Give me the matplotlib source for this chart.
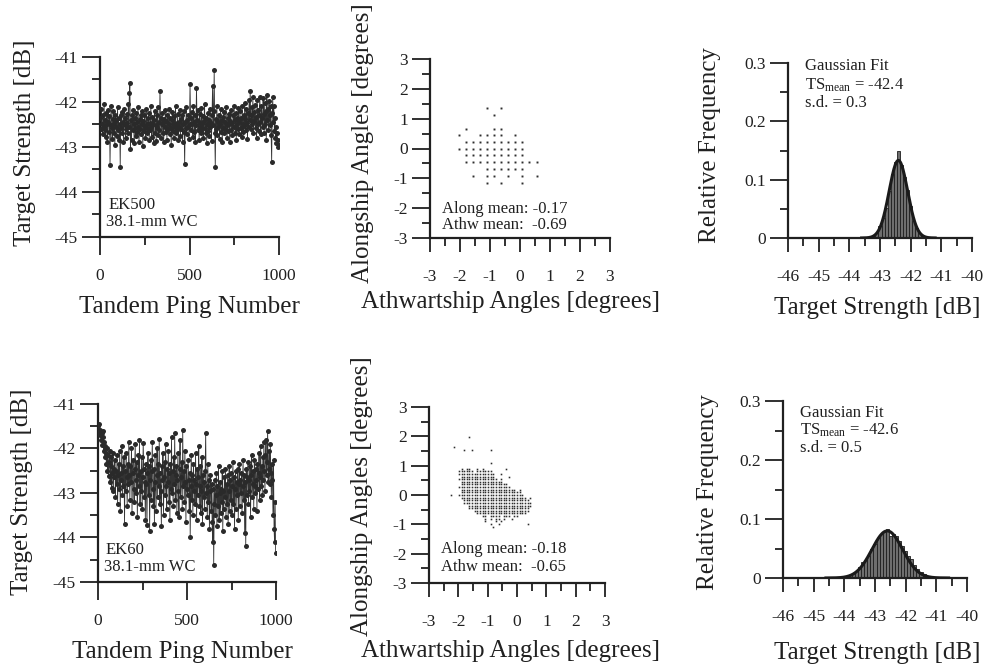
import numpy as np
import matplotlib
matplotlib.use("Agg")
import matplotlib.pyplot as plt
from matplotlib.ticker import MultipleLocator, FuncFormatter

plt.rcParams['font.family'] = ['Liberation Serif', 'DejaVu Serif']
plt.rcParams['mathtext.fontset'] = 'custom'
plt.rcParams['mathtext.rm'] = 'Liberation Serif'
plt.rcParams['mathtext.it'] = 'Liberation Serif:italic'
plt.rcParams['axes.unicode_minus'] = False

INK = '#202020'

# ------------------------------------------------------------------
# Target strength per tandem ping (every 3rd ping shown)
# ------------------------------------------------------------------
ping_first, ping_step = 2, 3

ek500_ts = [
    -42.35, -42.60, -42.15, -42.48, -42.72, -42.30, -42.55, -42.05, -42.62, -42.40,
    -42.78, -42.25, -42.50, -42.88, -42.18, -42.45, -42.66, -42.32, -43.40, -42.52,
    -42.10, -42.58, -42.82, -42.38, -42.20, -42.70, -42.46, -42.95, -42.28, -42.55,
    -42.40, -42.75, -42.12, -42.62, -42.36, -42.85, -42.48, -43.45, -42.30, -42.58,
    -42.22, -42.68, -42.44, -42.90, -42.15, -42.52, -42.35, -42.80, -42.60, -42.26,
    -42.47, -42.70, -42.05, -42.55, -41.80, -41.58, -43.05, -42.40, -42.85, -42.30,
    -42.62, -42.18, -42.50, -42.92, -42.35, -42.58, -42.76, -42.25, -42.45, -42.66,
    -42.12, -42.55, -42.88, -42.38, -42.60, -42.28, -42.72, -42.48, -42.20, -42.98,
    -42.42, -42.65, -42.30, -42.55, -42.80, -42.15, -42.50, -42.70, -42.36, -42.60,
    -42.25, -42.85, -42.46, -42.62, -42.10, -42.55, -42.78, -42.33, -42.50, -42.92,
    -42.40, -42.20, -42.68, -42.52, -42.86, -42.30, -42.58, -42.12, -42.74, -42.44,
    -42.62, -41.75, -42.35, -42.80, -42.50, -42.25, -42.70, -42.45, -42.90, -42.38,
    -42.55, -42.18, -42.66, -42.42, -42.84, -42.28, -42.60, -42.48, -42.15, -42.72,
    -42.36, -42.58, -42.95, -42.40, -42.22, -42.65, -42.50, -42.80, -42.32, -42.56,
    -42.10, -42.70, -42.46, -42.62, -42.26, -42.85, -42.44, -42.55, -42.18, -42.76,
    -42.38, -42.60, -42.30, -42.88, -42.50, -42.20, -42.66, -43.38, -42.45, -42.58,
    -42.12, -42.72, -42.40, -42.55, -42.28, -42.82, -42.48, -41.60, -42.35, -42.62,
    -42.22, -42.50, -42.78, -42.08, -42.44, -42.66, -42.30, -42.90, -42.52, -41.70,
    -42.40, -42.18, -42.62, -42.45, -42.85, -42.26, -42.55, -42.70, -42.14, -42.48,
    -42.60, -42.32, -42.80, -42.42, -42.05, -42.58, -42.68, -42.36, -42.92, -42.50,
    -42.24, -42.64, -42.40, -42.76, -42.15, -42.55, -42.46, -42.86, -42.30, -41.65,
    -42.52, -42.20, -41.29, -42.68, -43.45, -42.38, -42.60, -42.10, -42.74, -42.44,
    -42.56, -42.28, -42.82, -42.48, -42.16, -42.66, -42.40, -42.90, -42.34, -42.58,
    -42.22, -42.70, -42.45, -42.60, -42.12, -42.52, -42.80, -42.36, -42.64, -42.26,
    -42.50, -42.88, -42.42, -42.18, -42.62, -42.46, -42.74, -42.30, -42.56, -42.08,
    -42.40, -42.68, -42.24, -42.84, -42.50, -42.35, -42.60, -42.14, -42.72, -42.44,
    -42.20, -42.58, -42.36, -42.78, -42.10, -42.48, -42.66, -42.28, -42.54, -42.02,
    -42.38, -42.62, -42.15, -42.46, -42.82, -42.25, -42.55, -41.95, -42.40, -41.75,
    -42.30, -42.60, -42.12, -42.48, -41.90, -42.70, -42.22, -42.42, -42.06, -42.58,
    -42.34, -42.80, -41.95, -42.50, -42.18, -42.64, -42.28, -41.88, -42.44, -42.72,
    -42.10, -42.36, -42.55, -41.92, -42.26, -42.68, -42.02, -42.48, -42.20, -42.85,
    -41.85, -42.40, -42.15, -42.62, -41.98, -42.30, -42.52, -42.08, -42.74, -43.33,
    -42.25, -41.90, -42.45, -42.10, -42.65, -42.35, -42.80, -42.55, -42.92, -42.70,
    -42.85, -43.00, -42.95,
]

ek60_ts = [
    -41.50, -41.62, -41.45, -41.70, -41.58, -41.80, -41.66, -41.92, -41.75, -41.60,
    -42.05, -41.85, -42.20, -41.95, -42.10, -42.35, -41.98, -42.50, -42.15, -42.62,
    -42.30, -42.05, -42.75, -42.40, -42.20, -42.88, -42.55, -42.10, -42.95, -42.45,
    -42.65, -42.25, -43.10, -42.50, -42.80, -42.15, -43.25, -42.60, -42.35, -42.90,
    -42.05, -43.40, -42.55, -42.70, -41.95, -43.05, -42.40, -42.85, -42.20, -43.70,
    -42.50, -42.95, -42.10, -42.65, -43.30, -42.35, -42.80, -41.85, -42.60, -43.15,
    -42.40, -42.75, -42.00, -43.45, -42.55, -42.25, -42.90, -43.20, -42.45, -41.90,
    -42.70, -43.00, -42.30, -43.55, -42.60, -42.15, -42.85, -41.80, -43.25, -42.50,
    -42.95, -42.20, -43.35, -42.65, -41.88, -42.45, -43.10, -42.75, -43.60, -42.35,
    -42.80, -43.73, -42.55, -42.10, -43.05, -42.40, -43.85, -42.70, -42.25, -43.15,
    -42.50, -41.85, -42.90, -43.30, -42.45, -43.70, -42.15, -42.75, -43.40, -42.60,
    -42.00, -43.10, -42.35, -42.85, -41.78, -43.25, -42.55, -42.95, -43.75, -42.40,
    -42.70, -42.10, -43.50, -42.65, -42.30, -43.05, -41.90, -42.85, -43.35, -42.45,
    -42.75, -42.05, -43.20, -42.55, -43.60, -42.35, -42.90, -41.75, -43.00, -42.50,
    -43.30, -42.20, -42.80, -41.65, -43.15, -42.60, -42.40, -43.45, -42.70, -42.10,
    -42.95, -43.55, -42.45, -41.82, -43.10, -42.65, -42.30, -43.35, -41.58, -42.85,
    -42.50, -43.20, -42.05, -42.75, -43.65, -42.40, -42.90, -43.05, -42.25, -42.70,
    -43.40, -42.55, -44.00, -42.85, -42.15, -43.15, -42.60, -43.50, -42.35, -42.95,
    -42.70, -43.25, -42.10, -42.80, -43.60, -42.45, -43.05, -42.65, -41.95, -43.30,
    -42.85, -42.40, -43.45, -42.95, -42.20, -43.70, -42.60, -43.10, -42.75, -43.35,
    -42.50, -41.65, -43.00, -42.85, -43.55, -42.35, -43.20, -42.70, -43.80, -42.95,
    -42.60, -43.40, -42.80, -43.65, -44.10, -42.90, -44.62, -43.25, -42.70, -43.50,
    -43.05, -42.55, -43.75, -42.85, -43.30, -42.40, -43.60, -43.00, -42.75, -43.45,
    -42.90, -43.20, -42.50, -43.85, -42.95, -43.35, -42.65, -43.10, -42.45, -43.55,
    -42.80, -43.25, -42.60, -43.70, -42.95, -42.40, -43.40, -42.70, -43.15, -42.55,
    -43.50, -42.85, -42.30, -43.25, -42.65, -43.80, -42.90, -42.50, -43.35, -42.75,
    -43.05, -42.45, -43.60, -42.80, -42.35, -43.30, -42.70, -43.00, -42.55, -43.45,
    -42.85, -42.25, -43.15, -42.60, -43.90, -42.75, -44.20, -42.45, -43.05, -42.65,
    -42.30, -43.25, -42.70, -42.95, -42.40, -43.55, -42.60, -42.15, -43.10, -42.80,
    -42.50, -43.35, -42.25, -42.85, -43.00, -42.45, -42.70, -43.40, -42.35, -42.90,
    -42.55, -42.10, -43.15, -42.65, -41.95, -42.85, -42.40, -43.05, -42.20, -42.70,
    -41.85, -42.50, -42.95, -42.15, -41.80, -42.60, -42.30, -41.60, -42.75, -42.45,
    -42.05, -42.80, -41.90, -42.55, -43.10, -42.35, -42.70, -43.50, -42.25, -43.80,
    -44.10, -43.20, -44.35,
]

# ------------------------------------------------------------------
# Split-beam angles: occupied (athwartship, alongship) angle cells
# ------------------------------------------------------------------
ek500_athw_grid = [-2.04, -1.81, -1.57, -1.34, -1.10, -0.87,
                   -0.63, -0.40, -0.16, 0.08, 0.31, 0.55]
ek500_along_grid = [1.35, 1.12, 0.90, 0.67, 0.45, 0.22,
                    0.00, -0.23, -0.46, -0.68, -0.91, -1.14]
ek500_cells = [
    "....#.#",
    ".....#",
    "",
    ".#...##",
    "#..####.#",
    ".#########",
    "##########",
    ".#########",
    ".###########",
    "....######",
    "..#.##.#.#.#",
    "....#.#..#",
]

ek60_athw_grid = np.round(np.arange(33) * 0.09 - 2.25, 2)
ek60_along_grid = np.round(1.98 - np.arange(35) * 0.09, 2)
ek60_cells = [
    ".......#",
    "",
    "",
    "",
    ".#",
    ".....#..#......#",
    "",
    "",
    "",
    "",
    "...............#",
    "",
    "....#.##..#.#........#",
    "...######.######",
    "...##############..#",
    "....#############.....#",
    "...###############.#",
    "....################",
    "....##################",
    "...####################",
    "....#####################.#",
    "....#######################",
    "#..#########################",
    "....#########################.#",
    ".....#########################",
    ".....##########################",
    ".......########################",
    ".......#######################",
    ".........#####################",
    "..........###################",
    "............##.####.###.##",
    ".............#.#.##.#..#",
    ".............#...#.#",
    "...............#..#..........#",
    "................#",
]

ek500_means = (-0.17, -0.69)   # (along, athwart)
ek60_means = (-0.18, -0.65)

# ------------------------------------------------------------------
# Target-strength histograms (0.1 dB bins) and Gaussian fits
# ------------------------------------------------------------------
bin_width = 0.1
ek500_hist_first = -43.3
ek500_hist = [0.002, 0.004, 0.008, 0.02, 0.035, 0.052, 0.08, 0.11, 0.13, 0.15,
              0.125, 0.105, 0.083, 0.055, 0.03, 0.017, 0.008, 0.004, 0.002]
ek500_fit = (-42.4, 0.3)   # (mean, s.d.)

ek60_hist_first = -44.0
ek60_hist = [0.002, 0.003, 0.005, 0.008, 0.012, 0.018, 0.027, 0.03, 0.038, 0.05,
             0.058, 0.068, 0.074, 0.078, 0.083, 0.072, 0.075, 0.072, 0.062, 0.055,
             0.046, 0.038, 0.033, 0.022, 0.015, 0.01, 0.006, 0.003]
ek60_fit = (-42.6, 0.5)

# ------------------------------------------------------------------
W, H = 989, 666
fig = plt.figure(figsize=(W / 100, H / 100), dpi=100)
fig.patch.set_facecolor('white')


def add_axes_px(left, right, top, bottom):
    return fig.add_axes([left / W, 1 - bottom / H, (right - left) / W, (bottom - top) / H])


def fig_text(x, y, s, rot=0, size=18):
    fig.text(x / W, 1 - y / H, s, rotation=rot, ha='center', va='center',
             fontsize=size, color=INK)


fmt = FuncFormatter(lambda v, p: f"{v:g}")


def style(ax, xmaj, xmin, ymaj, ymin, xlen=13):
    for s in ('top', 'right'):
        ax.spines[s].set_visible(False)
    for s in ('left', 'bottom'):
        ax.spines[s].set_linewidth(1.6)
        ax.spines[s].set_color(INK)
    ax.xaxis.set_major_locator(MultipleLocator(xmaj))
    ax.xaxis.set_minor_locator(MultipleLocator(xmin))
    ax.yaxis.set_major_locator(MultipleLocator(ymaj))
    ax.yaxis.set_minor_locator(MultipleLocator(ymin))
    ax.xaxis.set_major_formatter(fmt)
    ax.yaxis.set_major_formatter(fmt)
    ax.tick_params(axis='y', which='major', direction='out', length=13, width=1.3,
                   colors=INK, labelsize=12.5, pad=3)
    ax.tick_params(axis='x', which='major', direction='out', length=xlen, width=1.3,
                   colors=INK, labelsize=12.5, pad=22 - xlen)
    ax.tick_params(which='minor', direction='out', length=6, width=1.3, colors=INK)
    ax.set_facecolor('none')


def ts_panel(ax, ts, label):
    pings = ping_first + ping_step * np.arange(len(ts))
    ax.plot(pings, ts, '-', color='#333333', lw=0.6, zorder=2)
    ax.plot(pings, ts, 'o', ms=3.6, color='#2a2a2a', mec='none', zorder=3)
    ax.set_xlim(0, 1000)
    ax.set_ylim(-45, -41)
    style(ax, 500, 250, 1, 0.5)
    ax.text(45, -44.28, label, fontsize=12, color=INK, va='center', ha='left')
    ax.text(35, -44.66, "38.1-mm WC", fontsize=12, color=INK, va='center', ha='left')


def angle_panel(ax, athw_grid, along_grid, cells, means, ms, ty):
    xs, ys = [], []
    for j, row in enumerate(cells):
        for i, c in enumerate(row):
            if c == '#':
                xs.append(athw_grid[i])
                ys.append(along_grid[j])
    ax.plot(xs, ys, 's', ms=ms, color='#2e2e2e', mec='none')
    ax.set_xlim(-3, 3)
    ax.set_ylim(-3, 3)
    style(ax, 1, 0.5, 1, 0.5, xlen=10)
    ax.text(-2.6, ty[0], f"Along mean: {means[0]:.2f}", fontsize=12, color=INK,
            va='center', ha='left')
    ax.text(-2.6, ty[1], f"Athw mean:  {means[1]:.2f}", fontsize=12, color=INK,
            va='center', ha='left')


def hist_panel(ax, first, freqs, fit, ty):
    centres = first + bin_width * np.arange(len(freqs))
    ax.bar(centres, freqs, width=bin_width, color='#6e6e6e', edgecolor='#1e1e1e',
           linewidth=0.6, zorder=2)
    mu, sd = fit
    xx = np.linspace(mu - 4 * sd, mu + 4 * sd, 300)
    yy = bin_width / (sd * np.sqrt(2 * np.pi)) * np.exp(-0.5 * ((xx - mu) / sd) ** 2)
    ax.plot(xx, yy, color='#1a1a1a', lw=2.2, zorder=3)
    ax.set_xlim(-46, -40)
    ax.set_ylim(0, 0.3)
    style(ax, 1, 0.5, 0.1, 0.05, xlen=10)
    ax.text(-45.45, ty[0], "Gaussian Fit", fontsize=12, color=INK, va='center', ha='left')
    ax.text(-45.45, ty[1], "TS$_{\\mathrm{mean}}$" + f" = {mu:.1f}", fontsize=12,
            color=INK, va='center', ha='left')
    ax.text(-45.45, ty[2], f"s.d. = {sd:.1f}", fontsize=12, color=INK,
            va='center', ha='left')


# ---- top row: EK500 ----
ax = add_axes_px(100, 279, 57, 237)
ts_panel(ax, ek500_ts, "EK500")
fig_text(25, 143, "Target Strength [dB]", rot=90)
fig_text(189, 307, "Tandem Ping Number")

ax = add_axes_px(430, 610, 59, 238)
angle_panel(ax, ek500_athw_grid, ek500_along_grid, ek500_cells, ek500_means, 1.4,
            (-2.02, -2.56))
fig_text(363, 143, "Alongship Angles [degrees]", rot=90)
fig_text(511, 302, "Athwartship Angles [degrees]")

ax = add_axes_px(788, 972, 63, 238)
hist_panel(ax, ek500_hist_first, ek500_hist, ek500_fit, (0.295, 0.261, 0.232))
fig_text(710, 145, "Relative Frequency", rot=90)
fig_text(877, 308, "Target Strength [dB]")

# ---- bottom row: EK60 ----
ax = add_axes_px(98, 276, 404, 582)
ts_panel(ax, ek60_ts, "EK60")
fig_text(22, 492, "Target Strength [dB]", rot=90)
fig_text(182, 652, "Tandem Ping Number")

ax = add_axes_px(429, 605, 407, 583)
angle_panel(ax, ek60_athw_grid, ek60_along_grid, ek60_cells, ek60_means, 1.15,
            (-1.83, -2.46))
fig_text(362, 496, "Alongship Angles [degrees]", rot=90)
fig_text(511, 651, "Athwartship Angles [degrees]")

ax = add_axes_px(783, 967, 401, 578)
hist_panel(ax, ek60_hist_first, ek60_hist, ek60_fit, (0.279, 0.250, 0.221))
fig_text(708, 492, "Relative Frequency", rot=90)
fig_text(877, 653, "Target Strength [dB]")

fig.savefig("out.png", dpi=100, facecolor='white')
